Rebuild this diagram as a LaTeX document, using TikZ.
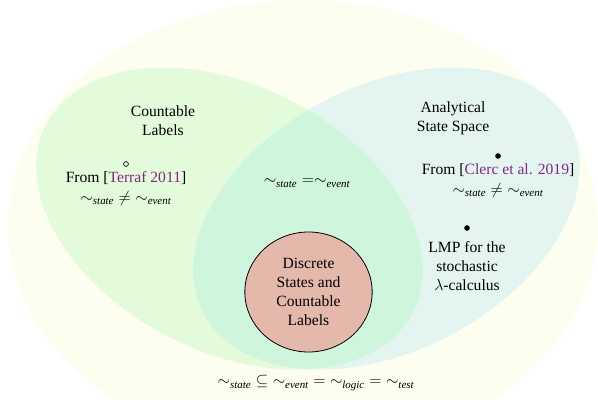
\documentclass[tikz,border=0pt]{standalone}
\usepackage{amsmath}
\usepackage{fontspec}
\setmainfont{Liberation Serif}
\usetikzlibrary{shapes.geometric}
\definecolor{outerY}{HTML}{FDFDF0}
\definecolor{leftG}{HTML}{E4FBDB}
\definecolor{rightT}{HTML}{E4F5F1}
\definecolor{interG}{HTML}{CFF5DC}
\definecolor{coreR}{HTML}{E5B8AC}
\definecolor{citeP}{RGB}{128,42,128}
\newcommand{\mycite}[1]{[\textcolor{citeP}{#1}]}
\newcommand{\eqv}[1]{{\sim_{\textit{#1}}}}
\begin{document}
\begin{tikzpicture}[x=0.75pt,y=-0.75pt,
  txt/.style={align=center, font=\fontsize{11.7}{14.3}\selectfont, inner sep=0pt},
  opendot/.style={circle, draw=black, line width=0.5pt, fill=none, inner sep=0pt, minimum size=3.6pt},
  fulldot/.style={circle, fill=black, inner sep=0pt, minimum size=4.2pt},
  core/.style={ellipse, draw=black, line width=0.6pt, fill=coreR, minimum width=95.5pt, minimum height=90pt, inner sep=0pt, align=center, font=\fontsize{11.7}{14.3}\selectfont}]
\useasboundingbox (0,0) rectangle (598,399);
\clip (0,0) rectangle (598,399);
% outer region
\fill[outerY] (303,226) ellipse [x radius=295, y radius=226];
% left and right sets
\fill[leftG, rotate around={-27:(229.5,218.5)}] (229.5,218.5) ellipse [x radius=206, y radius=133];
\fill[rightT, rotate around={27:(386.5,218.5)}] (386.5,218.5) ellipse [x radius=206, y radius=133];
\begin{scope}
  \clip[rotate around={-27:(229.5,218.5)}] (229.5,218.5) ellipse [x radius=206, y radius=133];
  \fill[interG, rotate around={27:(386.5,218.5)}] (386.5,218.5) ellipse [x radius=206, y radius=133];
\end{scope}
% core
\node[core] (disc) at (308.5,292) {Discrete\\States and\\Countable\\Labels};
% left texts
\node[txt] (cl) at (163,121) {Countable\\Labels};
\node[opendot] (terrafdot) at (126,164) {};
\node[txt] (terraf) at (126,178) {From \mycite{Terraf 2011}};
\node[txt] (terrafeq) at (126,198) {$\eqv{state} \neq \eqv{event}$};
% middle
\node[txt] (mid) at (307,183) {$\eqv{state}\;{=}\eqv{event}$};
% right texts
\node[txt] (as) at (453,118.5) {Analytical\\State Space};
\node[fulldot] (clercdot) at (498,156) {};
\node[txt] (clerc) at (498,170) {From \mycite{Clerc et al. 2019}};
\node[txt] (clerceq) at (498,190) {$\eqv{state} \neq \eqv{event}$};
\node[fulldot] (lmpdot) at (467,228) {};
\node[txt] (lmp) at (467,266.5) {LMP for the\\stochastic\\$\lambda$-calculus};
% bottom
\node[txt] (bottom) at (316,383) {$\eqv{state} \subseteq \eqv{event} = \eqv{logic} = \eqv{test}$};
\end{tikzpicture}
\end{document}
